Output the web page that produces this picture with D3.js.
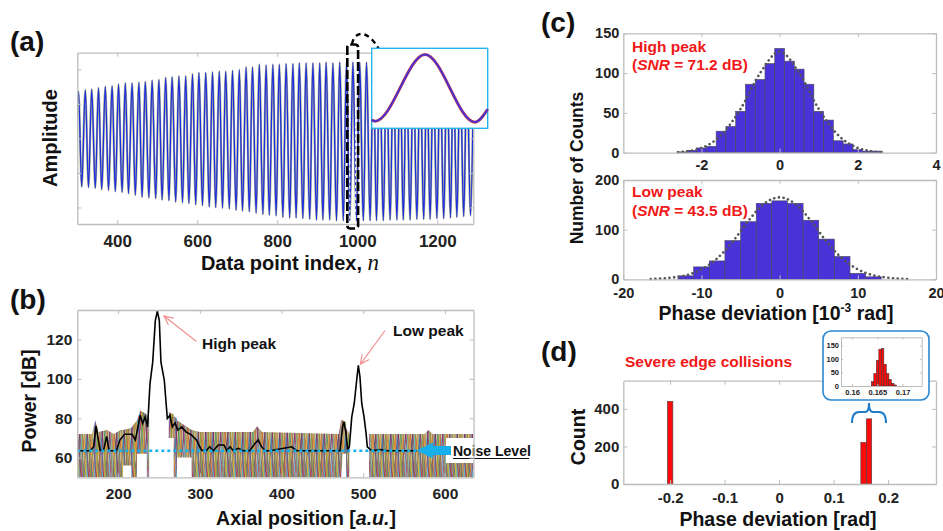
<!DOCTYPE html>
<html>
<head>
<meta charset="utf-8">
<script src="https://cdn.jsdelivr.net/npm/d3@7"></script>
<style>
body { margin: 0; background: #fff; }
svg { font-family: Arial, "Liberation Sans", sans-serif; }
</style>
</head>
<body>
<svg id="fig" width="943" height="531"></svg>
<script>
// ---------- (a) interference signal : maxima / minima ----------
var peakN = [303,320,336,353,370,387,403,420,437,454,470,487,504,521,537,554,571,588,604,621,
  638,655,671,688,705,722,738,755,772,789,805,822,839,855,872,889,906,922,939,956,
  973,989,1006,1023,1040,1056,1073,1090,1107,1123,1140,1157,1174,1190,1207,1224,1240,1257,1274,1291];
var peakAmp = [0.68,0.70,0.71,0.73,0.75,0.76,0.78,0.80,0.80,0.81,0.82,0.84,0.85,0.88,0.89,0.90,0.90,0.93,0.95,0.95,
  0.96,0.97,0.97,0.98,0.99,1.03,1.03,1.07,1.06,1.07,1.07,1.08,1.08,1.09,1.09,1.09,1.09,1.10,1.09,1.10,
  1.10,1.10,1.10,1.10,1.09,1.09,1.09,1.09,1.09,1.08,1.08,1.08,1.08,1.07,1.07,1.07,1.07,1.06,1.06,1.06];
var troughN = [295,311,328,345,361,378,395,412,428,445,462,479,496,512,529,546,563,579,596,613,
  630,646,663,680,697,713,730,747,764,780,797,814,831,847,864,881,898,914,931,948,
  965,981,998,1015,1032,1048,1065,1082,1099,1115,1132,1149,1166,1182,1199,1216,1233,1249,1266,1283];
var troughAmp = [-0.68,-0.70,-0.71,-0.72,-0.74,-0.75,-0.77,-0.78,-0.80,-0.82,-0.85,-0.86,-0.87,-0.89,-0.90,-0.92,-0.93,-0.94,-0.96,-0.97,
  -0.99,-1.00,-1.01,-1.02,-1.04,-1.05,-1.06,-1.08,-1.10,-1.11,-1.12,-1.14,-1.15,-1.15,-1.16,-1.17,-1.18,-1.18,-1.18,-1.19,
  -1.19,-1.19,-1.19,-1.19,-1.19,-1.19,-1.19,-1.18,-1.18,-1.18,-1.18,-1.17,-1.17,-1.17,-1.16,-1.16,-1.15,-1.14,-1.13,-1.12];
var aTicks = [400, 600, 800, 1000, 1200];
// zoomed single period (inset)
var insetN = [988, 988.6, 997.2, 1005.8, 1008];
var insetAmp = [-1.03, -1.07, 1.10, -1.10, -0.68];

// ---------- (b) A-scan power ----------
var meanX = [151,166,170,173,177.8,182,186,189,198,202,208,217,221,223,227,230,233,236,239,242.3,
  245.5,248,250.4,252.4,256.5,260.2,263.5,266.3,269.6,272.9,277.8,283,290,296,302,308,312,316.5,322.6,329.6,
  333,337,341,347,353,361,367.5,371.5,375.7,380,386,412.4,418.5,471.5,474.8,476.4,478.9,481,483,486,
  489,492,494,496,498.2,501,503.5,505,510.5,520.7,528.8,565.5];
var meanDb = [63.5,63.5,65.5,76,63.8,63.5,70.8,63.5,63.5,68.9,71.9,71.9,69,73,81.5,77.3,80.7,75.6,97.6,108.5,
  129.6,134.4,129.6,108.5,99.3,79.9,81.5,75.6,77.7,74,75.6,73.1,71.4,68.9,63.8,63.5,65.5,63.5,66.4,66.4,
  63.5,65.5,63.5,64.7,63.5,63.5,67.2,69,65.5,63.5,63.5,65.5,63.5,63.5,75.6,78.2,72.3,63.8,65.5,80.7,
  87.5,99.3,106.9,101,87.5,80.7,72.3,65.5,63.5,64.1,63.5,63.5];
// band covered by the individual (coloured) traces
var noiseX      = [150,168,172,176,186,195,203,206,206,216,216,223,223,227,235,235,238,238,262,262,268,268,272,272,290,290,300,365,370,376,470,473,475,479,479,483,483,507,507,575,580,585,635];
var noiseTop    = [72,72,79,73,74,72,74,74,74,75,75,79,79,84,82,82,80,50,50,83,82,81,80,79,74,74,73,73,76,73,72,79,79,78,75,72,50,50,72,72,74,72,72];
var noiseBottom = [50,50,50,50,50,50,50,50,56,56,50,50,62,62,62,50,50,50,50,70,70,50,50,60,60,50,50,50,50,50,50,50,62,62,50,50,50,50,50,50,50,50,50];
var noiseLevel = 63.5;
var bTicksX = [200, 300, 400, 500, 600];
var bTicksY = [60, 80, 100, 120];

// ---------- (c) phase deviation histograms ----------
var hiCenter = [-2.5,-2.25,-2,-1.75,-1.5,-1.25,-1,-0.75,-0.5,-0.25,0,0.25,0.5,0.75,1,1.25,1.5,1.75,2,2.25,2.5];
var hiCount  = [1,3,6,8,27,33,52,86,92,112,131,115,105,86,52,41,15,11,4,2,2];
var hiBinWidth = 0.25;
var hiFitX = [-2.6,-2,-1.5,-1,-0.5,0,0.5,1,1.5,2,2.6];
var hiFitY = [0.5,6,22,55,100,127,100,55,22,6,0.5];
var loCenter = [-12,-10,-8,-6,-4,-2,0,2,4,6,8,10,12];
var loCount  = [7,25,37,78,116,153,158,153,119,81,46,12,5];
var loBinWidth = 2;
var loFitX = [-16.5,-14,-12,-10,-8,-6,-4,-2,0,2,4,6,8,10,12,14,16.5];
var loFitY = [0.5,3,8,20,42,76,118,152,165,152,118,76,42,20,8,3,0.5];

// ---------- (d) severe edge collisions ----------
var dLeft  = [-0.205, 0.150, 0.160];
var dRight = [-0.195, 0.160, 0.170];
var dCount = [440, 222, 347];
var dTicksX = [-0.2, -0.1, 0, 0.1, 0.2];
var dTicksY = [0, 200, 400];
var zLeft  = [0.1638,0.1643,0.1648,0.1653,0.1658,0.1663,0.1668,0.1673,0.1678,0.1683];
var zCount = [16,46,95,136,139,80,46,24,10,4];
var zBinWidth = 0.0005;

// ------------------------------------------------------------
var font = "Arial, 'Liberation Sans', sans-serif";
var svg = d3.select("#fig");
var defs = svg.append("defs");

function frame(g, x, y, o) {
  // MATLAB style box: grey frame, inward ticks on all four sides
  var gray = "#bdbdbd", tk = o.tk || 4;
  var xr = x.range(), yr = y.range();
  var fmt = function (d) { return String(d); };
  g.append("g").attr("transform", "translate(0," + yr[0] + ")")
    .call(d3.axisBottom(x).tickValues(o.xt).tickSizeInner(-tk).tickSizeOuter(0)
      .tickPadding(o.xpad).tickFormat(o.xlab === false ? "" : fmt));
  g.append("g").attr("transform", "translate(0," + yr[1] + ")")
    .call(d3.axisTop(x).tickValues(o.xt).tickSizeInner(-tk).tickSizeOuter(0).tickFormat(""));
  g.append("g").attr("transform", "translate(" + xr[0] + ",0)")
    .call(d3.axisLeft(y).tickValues(o.yt).tickSizeInner(-tk).tickSizeOuter(0)
      .tickPadding(o.ypad || 4).tickFormat(o.ylab === false ? "" : fmt));
  g.append("g").attr("transform", "translate(" + xr[1] + ",0)")
    .call(d3.axisRight(y).tickValues(o.yt).tickSizeInner(-tk).tickSizeOuter(0).tickFormat(""));
  g.selectAll(".domain").attr("stroke", gray).attr("stroke-width", o.sw || 1.3);
  g.selectAll(".tick line").attr("stroke", gray).attr("stroke-width", 1);
  g.selectAll("g").attr("font-family", font);
  g.selectAll(".tick text").attr("fill", "#222").attr("font-weight", "bold").attr("font-size", o.fs);
}

function title(txt, x, y, size, rot) {
  var t = svg.append("text").attr("font-weight", "bold").attr("font-size", size)
    .attr("text-anchor", "middle").attr("fill", "#111");
  if (rot) t.attr("transform", "translate(" + x + "," + y + ") rotate(-90)");
  else t.attr("x", x).attr("y", y);
  return t.text(txt);
}

function panelTag(txt, x, y) {
  svg.append("text").attr("x", x).attr("y", y).attr("font-size", 28)
    .attr("font-weight", "bold").attr("fill", "#111").text(txt);
}

// ================= (a) =================
var xa = d3.scaleLinear().domain([300, 1290]).range([77.3, 473.3]);
var ya = d3.scaleLinear().domain([-1.24, 1.24]).range([224, 52.7]);

defs.append("clipPath").attr("id", "clipA").append("rect")
  .attr("x", 77.3).attr("y", 52.7).attr("width", 396).attr("height", 171.3);

var extrema = peakN.map(function (n, i) { return [n, peakAmp[i]]; })
  .concat(troughN.map(function (n, i) { return [n, troughAmp[i]]; }))
  .sort(function (a, b) { return a[0] - b[0]; });

var waveLine = d3.line().x(function (d) { return xa(d[0]); }).y(function (d) { return ya(d[1]); })
  .curve(d3.curveMonotoneX);
var ga = svg.append("g").attr("clip-path", "url(#clipA)");
ga.append("path").datum(extrema).attr("d", waveLine)
  .attr("fill", "none").attr("stroke", "#aeb28e").attr("stroke-width", 2.2);
ga.append("path").datum(extrema).attr("d", waveLine)
  .attr("fill", "none").attr("stroke", "#1d2de0").attr("stroke-width", 1.3);

frame(svg.append("g"), xa, ya, { xt: aTicks, yt: [-1, -0.5, 0, 0.5, 1], xpad: 11, fs: 17, ylab: false });

// dashed selection box around n ~ 1000
svg.append("rect").attr("x", xa(975)).attr("y", 44.5).attr("width", xa(1002) - xa(975)).attr("height", 184)
  .attr("rx", 3).attr("fill", "none").attr("stroke", "#000").attr("stroke-width", 2.6)
  .attr("stroke-dasharray", "9,3");
svg.append("rect").attr("x", xa(975) + 2.5).attr("y", 47).attr("width", xa(1002) - xa(975) - 5).attr("height", 179)
  .attr("fill", "none").attr("stroke", "#fff").attr("stroke-width", 1).attr("stroke-dasharray", "3,3");

// curved dashed arrow to the inset
svg.append("path").attr("d", "M352,44 C355,28 373,29 385,63")
  .attr("fill", "none").attr("stroke", "#000").attr("stroke-width", 2.4).attr("stroke-dasharray", "5,4");
svg.append("path").attr("d", "M390,72 L380.6,66 L389.2,60.4 Z").attr("fill", "#000");

// inset: one period
var xi = d3.scaleLinear().domain([988, 1008]).range([371.7, 487.7]);
var yi = d3.scaleLinear().domain([-1.3, 1.3]).range([128.3, 48.3]);
svg.append("rect").attr("x", 371.7).attr("y", 48.3).attr("width", 116).attr("height", 80)
  .attr("fill", "#fff").attr("stroke", "#22b4ec").attr("stroke-width", 1.4);
var insetPts = insetN.map(function (n, i) { return [n, insetAmp[i]]; });
var insetLine = d3.line().x(function (d) { return xi(d[0]); }).y(function (d) { return yi(d[1]); })
  .curve(d3.curveMonotoneX);
svg.append("path").datum(insetPts).attr("d", insetLine).attr("fill", "none")
  .attr("stroke", "#d8433a").attr("stroke-width", 3);
svg.append("path").datum(insetPts).attr("d", insetLine).attr("fill", "none")
  .attr("stroke", "#4a30d2").attr("stroke-width", 2);

panelTag("(a)", 10, 51);
title("Amplitude", 57, 138, 20, true);
var ta = title("Data point index, ", 290, 270, 20, false);
ta.append("tspan").attr("font-family", "'Liberation Serif', 'DejaVu Serif', serif")
  .attr("font-style", "italic").attr("font-weight", "normal").attr("font-size", 23).text("n");

// ================= (b) =================
var xb = d3.scaleLinear().domain([150, 635]).range([77.3, 473.5]);
var yb = d3.scaleLinear().domain([50, 135]).range([477.3, 310]);

defs.append("clipPath").attr("id", "clipB").append("rect")
  .attr("x", 77.3).attr("y", 310).attr("width", 396.2).attr("height", 167.3);

// texture standing in for hundreds of overlaid coloured traces
var palette = ["#0072BD", "#D95319", "#EDB120", "#7E2F8E", "#77AC30", "#4DBEEE", "#A2142F"];
var pw = 37, ph = 60;
var pat = defs.append("pattern").attr("id", "traces").attr("patternUnits", "userSpaceOnUse")
  .attr("width", pw).attr("height", ph);
pat.append("rect").attr("width", pw).attr("height", ph).attr("fill", "#cabf9c");
d3.range(pw * 2).forEach(function (i) {
  var x0 = i / 2 + 0.25, j1 = (i * 7) % 5 - 2, j2 = (i * 11) % 5 - 2, j3 = (i * 3) % 5 - 2;
  pat.append("path")
    .attr("d", "M" + x0 + ",0 L" + (x0 + j1) + ",15 L" + (x0 + j2) + ",30 L" + (x0 + j3) + ",45 L" + x0 + "," + ph)
    .attr("stroke", palette[(i * 5 + (i >> 3)) % 7]).attr("stroke-width", 0.7)
    .attr("stroke-opacity", 0.85).attr("fill", "none");
});

var gb = svg.append("g").attr("clip-path", "url(#clipB)");
var noisePts = noiseX.map(function (v, i) { return [v, noiseBottom[i], noiseTop[i]]; });
gb.append("path").datum(noisePts)
  .attr("d", d3.area().x(function (d) { return xb(d[0]); })
    .y0(function (d) { return yb(d[1]); }).y1(function (d) { return yb(d[2]); }))
  .attr("fill", "url(#traces)");

var meanPts = meanX.map(function (v, i) { return [v, meanDb[i]]; });
gb.append("path").datum(meanPts)
  .attr("d", d3.line().x(function (d) { return xb(d[0]); }).y(function (d) { return yb(d[1]); }))
  .attr("fill", "none").attr("stroke", "#000").attr("stroke-width", 1.6);

// noise level
gb.append("line").attr("x1", xb(150)).attr("x2", xb(565)).attr("y1", yb(noiseLevel)).attr("y2", yb(noiseLevel))
  .attr("stroke", "#14b2ee").attr("stroke-width", 2.6).attr("stroke-dasharray", "3,3");

svg.append("rect").attr("x", 446).attr("y", 438).attr("width", 29).attr("height", 25).attr("fill", "#fff");
svg.append("path").attr("d", "M451,446 L433,446 L433,442.5 L416.5,450.5 L433,458.5 L433,455 L451,455 Z")
  .attr("fill", "#17b0ec");
svg.append("text").attr("x", 453).attr("y", 455.5).attr("font-size", 14).attr("font-weight", "bold")
  .attr("fill", "#111").text("Noise Level");
svg.append("line").attr("x1", 453).attr("x2", 529).attr("y1", 458.5).attr("y2", 458.5)
  .attr("stroke", "#111").attr("stroke-width", 1);

frame(svg.append("g"), xb, yb, { xt: bTicksX, yt: bTicksY, xpad: 11, ypad: 5, fs: 15.5 });

// peak annotations
function pinkArrow(x1, y1, x2, y2) {
  svg.append("line").attr("x1", x1).attr("y1", y1).attr("x2", x2).attr("y2", y2)
    .attr("stroke", "#f28b8b").attr("stroke-width", 1.1);
  var a = Math.atan2(y2 - y1, x2 - x1), L = 10, w = 0.45;
  svg.append("path").attr("d", "M" + (x2 - L * Math.cos(a - w)) + "," + (y2 - L * Math.sin(a - w)) +
      " L" + x2 + "," + y2 + " L" + (x2 - L * Math.cos(a + w)) + "," + (y2 - L * Math.sin(a + w)))
    .attr("fill", "none").attr("stroke", "#f28b8b").attr("stroke-width", 1.1);
}
pinkArrow(196.5, 341.5, xb(250) + 5, yb(133.5) + 3);
pinkArrow(385, 330.5, xb(494) + 2, yb(106.9) - 1);
svg.append("text").attr("x", 202).attr("y", 349).attr("font-size", 15.5).attr("font-weight", "bold")
  .attr("fill", "#111").text("High peak");
svg.append("text").attr("x", 393).attr("y", 336).attr("font-size", 15.5).attr("font-weight", "bold")
  .attr("fill", "#111").text("Low peak");

panelTag("(b)", 10, 309);
title("Power [dB]", 36, 401, 19.5, true);
var tb = title("Axial position [", 306, 525, 19.5, false);
tb.append("tspan").attr("font-style", "italic").text("a.u.");
tb.append("tspan").text("]");

// ================= (c) =================
function histogram(g, x, y, centers, counts, width, fill) {
  g.selectAll("rect.bar").data(centers).enter().append("rect").attr("class", "bar")
    .attr("x", function (d) { return x(d - width / 2); })
    .attr("width", function (d) { return x(d + width / 2) - x(d - width / 2); })
    .attr("y", function (d, i) { return y(counts[i]); })
    .attr("height", function (d, i) { return y(0) - y(counts[i]); })
    .attr("fill", fill).attr("stroke", "#4a4a5a").attr("stroke-width", 0.6);
}
function fitCurve(g, x, y, xs, ys) {
  g.append("path").datum(xs.map(function (v, i) { return [v, ys[i]]; }))
    .attr("d", d3.line().x(function (d) { return x(d[0]); }).y(function (d) { return y(d[1]); })
      .curve(d3.curveMonotoneX))
    .attr("fill", "none").attr("stroke", "#555").attr("stroke-width", 2.6)
    .attr("stroke-linecap", "round").attr("stroke-dasharray", "0.1,4.6");
}

var xc1 = d3.scaleLinear().domain([-4, 4]).range([623.3, 936]);
var yc1 = d3.scaleLinear().domain([0, 150]).range([152.7, 33.3]);
var gc1 = svg.append("g");
histogram(gc1, xc1, yc1, hiCenter, hiCount, hiBinWidth, "#4932d8");
fitCurve(gc1, xc1, yc1, hiFitX, hiFitY);
frame(svg.append("g"), xc1, yc1, { xt: [-2, 0, 2, 4], yt: [0, 50, 100, 150], xpad: 7.5, ypad: 4, fs: 14.5 });

var xc2 = d3.scaleLinear().domain([-20, 20]).range([623.3, 936]);
var yc2 = d3.scaleLinear().domain([0, 200]).range([279.3, 180]);
var gc2 = svg.append("g");
histogram(gc2, xc2, yc2, loCenter, loCount, loBinWidth, "#4932d8");
fitCurve(gc2, xc2, yc2, loFitX, loFitY);
frame(svg.append("g"), xc2, yc2, { xt: [-20, -10, 0, 10, 20], yt: [0, 100, 200], xpad: 8.5, ypad: 4, fs: 14.5 });

function redNote(x, y, lines) {
  lines.forEach(function (ln, k) {
    var t = svg.append("text").attr("x", x).attr("y", y + k * 18.5).attr("font-size", 15.5)
      .attr("font-weight", "bold").attr("fill", "#f01818");
    ln.forEach(function (part) {
      t.append("tspan").attr("font-style", part[1] ? "italic" : "normal").text(part[0]);
    });
  });
}
redNote(632, 51.5, [[["High peak", false]], [["(", false], ["SNR", true], [" = 71.2 dB)", false]]]);
redNote(632, 197, [[["Low peak", false]], [["(", false], ["SNR", true], [" = 43.5 dB)", false]]]);

panelTag("(c)", 541, 32);
title("Number of Counts", 583, 168, 17.5, true);
var tc = title("Phase deviation [10", 776, 320, 19.5, false);
tc.append("tspan").attr("dy", -8).attr("font-size", 12).text("-3");
tc.append("tspan").attr("dy", 8).text(" rad]");

// ================= (d) =================
var xd = d3.scaleLinear().domain([-0.286, 0.288]).range([623.3, 936]);
var yd = d3.scaleLinear().domain([0, 550]).range([484, 380.7]);
var gd = svg.append("g");
gd.selectAll("rect").data(dCount).enter().append("rect")
  .attr("x", function (d, i) { return xd(dLeft[i]); })
  .attr("width", function (d, i) { return xd(dRight[i]) - xd(dLeft[i]); })
  .attr("y", function (d) { return yd(d); })
  .attr("height", function (d) { return yd(0) - yd(d); })
  .attr("fill", "#ff0a0a").attr("stroke", "#444").attr("stroke-width", 0.6);
frame(svg.append("g"), xd, yd, { xt: dTicksX, yt: dTicksY, xpad: 8.5, ypad: 4, fs: 15 });

// zoom-in inset around 0.165 rad
svg.append("rect").attr("x", 823).attr("y", 331).attr("width", 106).attr("height", 69).attr("rx", 8)
  .attr("fill", "#fff").attr("stroke", "#2a88d2").attr("stroke-width", 1.6);
var xz = d3.scaleLinear().domain([0.1578, 0.1738]).range([841, 921.7]);
var yz = d3.scaleLinear().domain([0, 180]).range([386, 337.3]);
var gz = svg.append("g");
gz.selectAll("rect").data(zCount).enter().append("rect")
  .attr("x", function (d, i) { return xz(zLeft[i]); })
  .attr("width", function (d, i) { return xz(zLeft[i] + zBinWidth) - xz(zLeft[i]); })
  .attr("y", function (d) { return yz(d); })
  .attr("height", function (d) { return yz(0) - yz(d); })
  .attr("fill", "#ff0a0a").attr("stroke", "#333").attr("stroke-width", 0.5);
frame(svg.append("g"), xz, yz, { xt: [0.16, 0.165, 0.17], yt: [0, 50, 100, 150], xpad: 4, ypad: 2,
  fs: 7.5, tk: 2, sw: 1 });

// brace linking the inset to the bars
svg.append("path")
  .attr("d", "M852,423 Q852,412 859,412 L865,412 Q869,412 869,403 Q869,412 873,412 L879,412 Q886,412 886,423")
  .attr("fill", "none").attr("stroke", "#1f7cc8").attr("stroke-width", 2);

svg.append("text").attr("x", 625).attr("y", 367).attr("font-size", 15.5).attr("font-weight", "bold")
  .attr("fill", "#f01818").text("Severe edge collisions");

panelTag("(d)", 541, 361);
title("Count", 585, 437, 19.5, true);
title("Phase deviation [rad]", 778, 526, 19.5, false);
</script>
</body>
</html>
